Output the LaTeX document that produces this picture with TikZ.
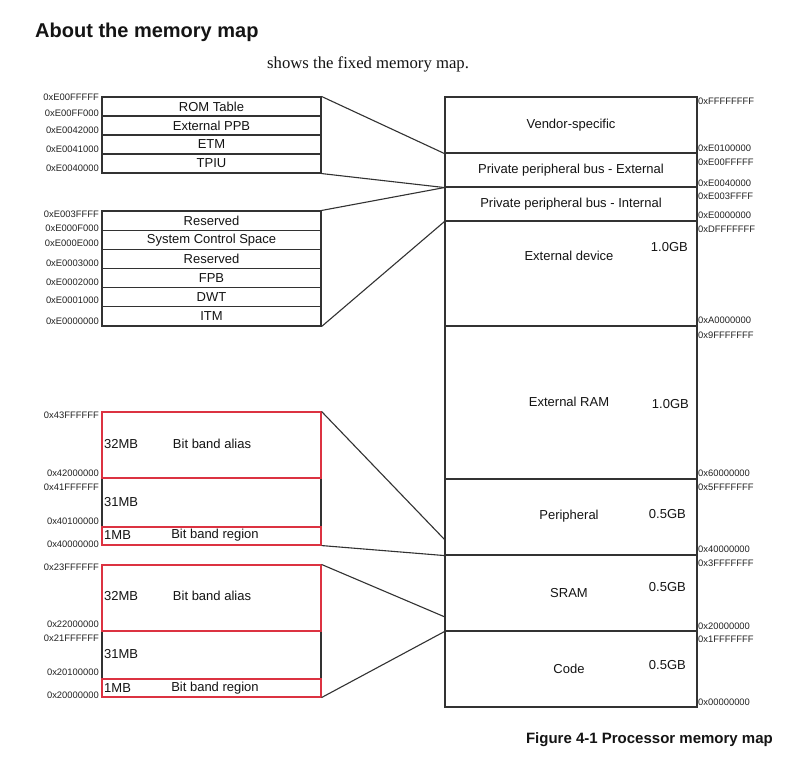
\documentclass[tikz,border=0pt]{standalone}
\usepackage{fontspec}
\setmainfont{Liberation Sans}
\newfontfamily\seriffont{Liberation Serif}
\definecolor{linec}{RGB}{50,50,50}
\definecolor{txt}{RGB}{20,20,20}
\definecolor{addr}{RGB}{35,35,35}
\definecolor{bandred}{RGB}{220,50,65}
\begin{document}
\begin{tikzpicture}[x=1pt,y=-1pt,
  lbox/.style={draw=linec, line width=1.1pt, minimum width=219pt, inner sep=0pt, text=txt, font=\fontsize{13}{13}\selectfont},
  rbox/.style={draw=linec, line width=1.1pt, minimum width=252pt, inner sep=0pt, text=txt, font=\fontsize{13}{13}\selectfont},
  redbox/.style={draw=bandred, line width=1.1pt, minimum width=219pt, inner sep=0pt},
  btxt/.style={text=txt, font=\fontsize{13}{13}\selectfont, inner sep=0pt},
  gb/.style={text=txt, font=\fontsize{13}{13}\selectfont, inner sep=0pt, anchor=east},
  la/.style={text=addr, font=\fontsize{9.4}{9.4}\selectfont, inner sep=0pt, anchor=east},
  ra/.style={text=addr, font=\fontsize{9.4}{9.4}\selectfont, inner sep=0pt, anchor=west},
  conn/.style={draw=linec, line width=1.1pt}
]
\useasboundingbox[fill=white] (0,0) rectangle (794,766);

% title, subtitle, caption
\node[anchor=base west, inner sep=0pt, text=txt, font=\fontsize{20}{20}\selectfont\bfseries] (title) at (35,37) {About the memory map};
\node[anchor=base west, inner sep=0pt, text=txt, font=\seriffont\fontsize{16.7}{16.7}\selectfont] (sub) at (267,68) {shows the fixed memory map.};
\node[anchor=base east, inner sep=0pt, text=txt, font=\fontsize{15}{15}\selectfont\bfseries] (cap) at (773,743) {Figure 4-1 Processor memory map};

% connectors (behind boxes)
\coordinate (p1) at (445,540);
\coordinate (s1) at (445,617);

% right column
\node[rbox, minimum height=56pt] (vendor) at (571,125) {Vendor-specific};
\node[rbox, minimum height=34pt] (ppbE) at (571,170) {Private peripheral bus - External};
\node[rbox, minimum height=34pt] (ppbI) at (571,204) {Private peripheral bus - Internal};
\node[rbox, minimum height=105pt] (extdev) at (571,273.5) {};
\node[btxt] (extdevt) at (569,256) {External device};
\node[gb] (gb1) at (688,247) {1.0GB};
\node[rbox, minimum height=153pt] (extram) at (571,402.5) {};
\node[btxt] (extramt) at (569,402) {External RAM};
\node[gb] (gb2) at (689,404) {1.0GB};
\node[rbox, minimum height=76pt] (periph) at (571,517) {};
\node[btxt] (periphT) at (569,516) {Peripheral};
\node[gb] (gb3) at (686,514) {0.5GB};
\node[rbox, minimum height=76pt] (sram) at (571,593) {};
\node[btxt] (sramT) at (569,593) {SRAM};
\node[gb] (gb4) at (686,587) {0.5GB};
\node[rbox, minimum height=76pt] (code) at (571,669) {};
\node[btxt] (codeT) at (569,669) {Code};
\node[gb] (gb5) at (686,665) {0.5GB};

% right addresses
\node[ra] (ra1) at (698,101) {0xFFFFFFFF};
\node[ra] (ra2) at (698,148) {0xE0100000};
\node[ra] (ra3) at (698,162) {0xE00FFFFF};
\node[ra] (ra4) at (698,183) {0xE0040000};
\node[ra] (ra5) at (698,196) {0xE003FFFF};
\node[ra] (ra6) at (698,215) {0xE0000000};
\node[ra] (ra7) at (698,229) {0xDFFFFFFF};
\node[ra] (ra8) at (698,320) {0xA0000000};
\node[ra] (ra9) at (698,335) {0x9FFFFFFF};
\node[ra] (ra10) at (698,473) {0x60000000};
\node[ra] (ra11) at (698,487) {0x5FFFFFFF};
\node[ra] (ra12) at (698,549) {0x40000000};
\node[ra] (ra13) at (698,563) {0x3FFFFFFF};
\node[ra] (ra14) at (698,626) {0x20000000};
\node[ra] (ra15) at (698,639) {0x1FFFFFFF};
\node[ra] (ra16) at (698,702) {0x00000000};

% left top group
\node[lbox, minimum height=19pt] (rom) at (211.5,106.5) {ROM Table};
\node[lbox, minimum height=19pt] (eppb) at (211.5,125.5) {External PPB};
\node[lbox, minimum height=19pt] (etm) at (211.5,144.5) {ETM};
\node[lbox, minimum height=19pt] (tpiu) at (211.5,163.5) {TPIU};
\node[la] (la1) at (99,97) {0xE00FFFFF};
\node[la] (la2) at (99,113) {0xE00FF000};
\node[la] (la3) at (99,130) {0xE0042000};
\node[la] (la4) at (99,149) {0xE0041000};
\node[la] (la5) at (99,168) {0xE0040000};

% left second group
\node[lbox, minimum height=19.17pt] (res1) at (211.5,220.6) {Reserved};
\node[lbox, minimum height=19.17pt] (scs) at (211.5,239.8) {System Control Space};
\node[lbox, minimum height=19.17pt] (res2) at (211.5,258.9) {Reserved};
\node[lbox, minimum height=19.17pt] (fpb) at (211.5,278.1) {FPB};
\node[lbox, minimum height=19.17pt] (dwt) at (211.5,297.3) {DWT};
\node[lbox, minimum height=19.17pt] (itm) at (211.5,316.4) {ITM};
\node[la] (la6) at (99,214) {0xE003FFFF};
\node[la] (la7) at (99,228) {0xE000F000};
\node[la] (la8) at (99,243) {0xE000E000};
\node[la] (la9) at (99,263) {0xE0003000};
\node[la] (la10) at (99,282) {0xE0002000};
\node[la] (la11) at (99,300) {0xE0001000};
\node[la] (la12) at (99,321) {0xE0000000};

% bit band group 1 (peripheral)
\node[lbox, minimum height=49pt] (mid1) at (211.5,502.5) {};
\node[redbox, minimum height=66pt] (alias1) at (211.5,445) {};
\node[redbox, minimum height=18pt] (reg1) at (211.5,536) {};
\node[btxt, anchor=west] (mb32a) at (104,444) {32MB};
\node[btxt] (bba1) at (212,444) {Bit band alias};
\node[btxt, anchor=west] (mb31a) at (104,502) {31MB};
\node[btxt, anchor=west] (mb1a) at (104,535) {1MB};
\node[btxt] (bbr1) at (215,535) {Bit band region};
\node[la] (la13) at (99,415) {0x43FFFFFF};
\node[la] (la14) at (99,473) {0x42000000};
\node[la] (la15) at (99,487) {0x41FFFFFF};
\node[la] (la16) at (99,521) {0x40100000};
\node[la] (la17) at (99,544) {0x40000000};

% bit band group 2 (SRAM)
\node[lbox, minimum height=48pt] (mid2) at (211.5,655) {};
\node[redbox, minimum height=66pt] (alias2) at (211.5,598) {};
\node[redbox, minimum height=18pt] (reg2) at (211.5,688) {};
\node[btxt, anchor=west] (mb32b) at (104,596) {32MB};
\node[btxt] (bba2) at (212,596) {Bit band alias};
\node[btxt, anchor=west] (mb31b) at (104,654) {31MB};
\node[btxt, anchor=west] (mb1b) at (104,688) {1MB};
\node[btxt] (bbr2) at (215,688) {Bit band region};
\node[la] (la18) at (99,567) {0x23FFFFFF};
\node[la] (la19) at (99,624) {0x22000000};
\node[la] (la20) at (99,638) {0x21FFFFFF};
\node[la] (la21) at (99,672) {0x20100000};
\node[la] (la22) at (99,695) {0x20000000};

% connectors
\draw[conn] (rom.north east) -- (vendor.south west);
\draw[conn] (tpiu.south east) -- (ppbE.south west);
\draw[conn] (res1.north east) -- (ppbE.south west);
\draw[conn] (itm.south east) -- (ppbI.south west);
\draw[conn] (alias1.north east) -- (p1);
\draw[conn] (reg1.south east) -- (periph.south west);
\draw[conn] (alias2.north east) -- (s1);
\draw[conn] (reg2.south east) -- (sram.south west);
\end{tikzpicture}
\end{document}
